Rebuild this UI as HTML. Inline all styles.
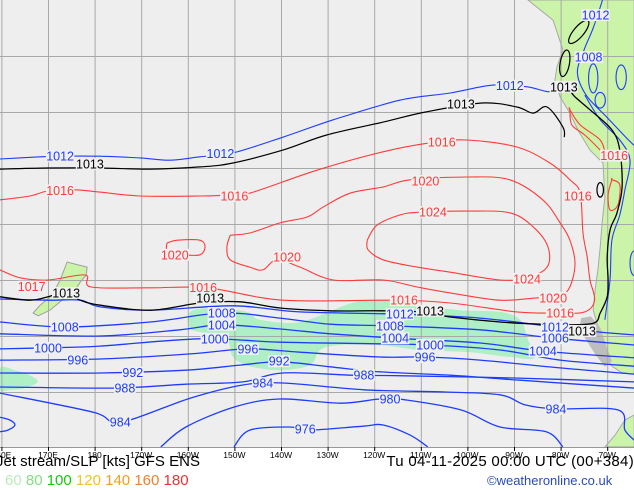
<!DOCTYPE html>
<html><head><meta charset="utf-8">
<style>
html,body{margin:0;padding:0;background:#fff;}
body{width:634px;height:490px;position:relative;overflow:hidden;font-family:"Liberation Sans",sans-serif;}
#map{position:absolute;left:0;top:0;}
.t{position:absolute;white-space:nowrap;}
</style></head>
<body>
<svg id="map" width="634" height="490" viewBox="0 0 634 490" xmlns="http://www.w3.org/2000/svg">
  <defs><clipPath id="clip"><rect x="0" y="0" width="634" height="447"/></clipPath></defs>
  <rect x="0" y="0" width="634" height="447" fill="#eeeeee"/>
  <g id="plot" clip-path="url(#clip)"></g>
  <line x1="0" y1="447.5" x2="634" y2="447.5" stroke="#999" stroke-width="1"/>
  <g id="ticks"></g>
</svg>
<div class="t" style="left:-4px;top:453px;font-size:15px;color:#000;">Jet stream/SLP [kts] GFS ENS</div>
<div class="t" style="right:0px;top:453px;font-size:15px;color:#000;letter-spacing:0.3px;">Tu 04-11-2025 00:00 UTC (00+384)</div>
<div class="t" style="left:5px;top:472px;font-size:15px;">
<span style="color:#b8ecb8">60</span>
<span style="color:#80e080">80</span>
<span style="color:#10cc10">100</span>
<span style="color:#e8c820">120</span>
<span style="color:#f0a020">140</span>
<span style="color:#f08030">160</span>
<span style="color:#f03030">180</span>
</div>
<div class="t" style="left:487px;top:473px;font-size:13px;color:#2a4cb0;">©weatheronline.co.uk</div>
<script>
// axis data
const lonTicks = [160,170,180,190,200,210,220,230,240,250,260,270,280,290];
const lonTickLabels = ["160E","170E","180","170W","160W","150W","140W","130W","120W","110W","100W","90W","80W","70W"];
const latGrid = [10,20,30,40,50,60,70];

// land & jet areas [lon(E), lat(S)]
const landSouthAmerica = [[273,0],[278.4,3.6],[280.5,8.9],[279.2,12],[278.8,14.3],[279.9,17.3],[282,20.2],[283.7,23.2],[286.3,26.8],[289.1,29.1],[289.5,35.2],[288.9,39.8],[288.5,44.1],[288,48.2],[287.4,51.8],[287,55.4],[287.8,57.7],[289,60],[290,64.3],[291.2,65.5],[293,66.5],[295.8,66.8],[295.8,0]];
const landFuegoIslands = [[284.4,56.8],[286.5,56.5],[288.5,58.5],[289.5,61],[291,64.5],[289.5,65.5],[287.5,63.4],[285.5,60.7],[284,58.9]];
const landAntarctic = [[289.5,79.8],[291.7,77.7],[293.8,75],[295.8,74.1],[295.8,79.8]];
const landNewZealand = [[178.4,47.7],[174.1,46.8],[172.6,50],[170.9,52.7],[168.3,54.5],[166.8,55.9],[167.9,56.4],[170.4,55.4],[173,53.6],[175.8,51.8],[176.9,50.4],[178.2,49.1]];
const jetMain = [[200.5,55.7],[205.8,55],[212.7,55.7],[215.5,57.1],[224.1,57.5],[235.2,54.1],[241.2,53.6],[249.8,54.5],[258.4,55.4],[267,55.7],[271.3,57.1],[273,60.7],[274.5,63.9],[269.1,63.75],[260.6,62.9],[249.8,62.5],[241.2,61.6],[232.7,61.6],[228.4,62.5],[226.2,65.2],[219.8,66.1],[213.3,65.4],[209.7,63.75],[208.4,60.7],[203.7,59.5],[200.5,58.6]];
const jetWest = [[159.7,65.7],[162.9,66.1],[166.1,67],[167.8,68.2],[165,69.3],[161.8,69.6],[159.7,69.6]];

// isobars
const iso1012N = [[159.7,28.4],[168.3,28],[172.6,27.9],[181.2,27.9],[189.7,28.2],[196.1,28.6],[202.6,28],[209.7,27.3],[220.4,24.5],[231.2,21.4],[245.5,17.9],[256.3,16.6],[265.5,15.2],[272.8,15.5],[277.7,16.4],[279.9,15.2]];
const iso1013N = [[159.7,30.2],[170,30],[181.2,30],[191.9,30.2],[202.6,29.8],[209.7,29.1],[220.4,26.8],[229.8,24.1],[241.9,21.8],[251,20],[263.1,18.4],[270.6,19.1],[274.1,20.2],[277.1,19.1],[280.5,22.7],[280.8,24.5]];
const iso1016 = [[159.7,35.7],[166.1,35],[170,34.1],[175.8,33.9],[181.2,34.3],[189.7,35],[202.6,35],[209.1,34.8],[213.3,34.5],[227.7,30.4],[241.9,27.1],[252,25.5],[259.9,25],[270.6,26.25],[277.7,29.1],[282,32.1],[284.2,34.5],[284.8,41.6],[285.7,45.9],[286.3,50],[287.3,53.6],[285.2,55.7],[279.9,55.9],[270.6,55.7],[256.3,54.1],[243.8,53.6],[220.4,53.6],[204.2,51.4],[191.9,51.4],[179.3,51.25],[178,49.1],[170,50],[164,49.6],[159.7,48.2]];
const iso1020 = [[209.1,42],[213.3,41.6],[219.8,39.8],[225.6,38.75],[229,37],[234.8,34.5],[241.9,33.4],[247.7,32.1],[259.9,31.6],[269.1,32.1],[276.2,35.7],[279.9,39.8],[282,42.9],[283.1,47.3],[281.6,51.8],[278.4,53.2],[274.9,53.2],[267,53.6],[256.3,52.3],[249.2,51.25],[241.9,50],[231.2,50],[224.1,47.7],[219.1,46.4],[216.1,48.2],[213.3,47.7],[209.1,46.4],[208.4,44.1],[209.1,42]];
const iso1024 = [[238.5,42.9],[240.6,40.2],[245.5,38.4],[249.8,37.9],[259.9,37.7],[269.1,38],[274.1,40.5],[277.3,44.1],[277.1,47.7],[272.8,49.6],[267,50],[256.3,48.6],[249.2,47.7],[241.9,46.4],[238.7,44.6],[238.5,42.9]];
const iso1020W = [[195.5,43.4],[197.7,42.9],[202.6,42.9],[203.7,44.1],[202.6,45.5],[199,45.5],[195.7,45.2],[195.5,43.4]];
const isoRedCoastA = [[282,19.6],[284.2,22.3],[288.5,25],[289.5,27.7],[288.5,26.8],[285.2,24.1],[282.4,22.3],[282,19.6]];
const isoRedCoastB = [[291,32.1],[292.7,33],[292.3,36.6],[290.6,37.5],[290.2,34.8],[291,32.1]];
const iso1013S = [[159.7,53],[166.1,53.6],[170,53],[173.6,52.1],[176.9,53.6],[181.2,54.5],[191.9,55.4],[202.6,54.1],[211.2,53.9],[219.8,55],[230.5,55.5],[241.2,55.5],[249.8,55.7],[256.3,56.6],[267,57.5],[275.6,57.9],[281,58],[287.1,57.7],[288.5,55.9],[290,53],[290.2,50],[290,45.9],[290.6,41.1],[292.1,38],[293.2,33.4],[292.7,26.8],[291,23.2],[286.3,19.6],[283.1,17.3],[282,16.1]];
const iso1012S = [[159.7,53.4],[170,53.6],[176.9,53.6],[181.2,54.8],[191.9,55.4],[209.7,54.6],[224.1,55.7],[245.5,56.1],[262.7,56.8],[278.8,58.4],[288.5,59.3],[295.8,59.8]];
const iso1008 = [[159.7,57.5],[173.6,58.4],[191.9,57.5],[207.3,55.9],[219.8,56.8],[230.5,57.9],[243.4,58.2],[262.7,58.9],[278.8,60.4],[295.8,61.6]];
const iso1004 = [[159.7,59.6],[181.2,60],[198.3,58.9],[207.3,58],[219.8,58.75],[230.5,59.6],[244.5,60.4],[262.7,61.25],[276.2,62.7],[295.8,63.9]];
const iso1000 = [[159.7,62.3],[170,62.1],[181.2,61.8],[202.6,60.5],[219.8,61.1],[241.2,61.4],[252,61.6],[267,62.5],[279.9,64.3],[295.8,65.4]];
const iso996 = [[159.7,64.3],[181.2,64.1],[200.5,63.2],[212.9,62.3],[224.1,62.9],[241.2,63.75],[250.9,63.75],[262.7,64.3],[279.9,65.7],[295.8,66.8]];
const iso992 = [[159.7,66.6],[181.2,66.6],[199.6,66.1],[211.2,65.2],[219.8,64.6],[230.5,65.5],[241.2,66.4],[256.3,67],[271.3,67.9],[295.8,69.3]];
const iso988 = [[159.7,69.1],[184,69.3],[199.6,68.6],[211.8,68.2],[220.4,66.6],[235.2,67],[246.4,67.1],[270,67.5],[295.8,68.2]];
const iso984 = [[159.7,70.2],[179.7,73.6],[185.5,75.4],[200.5,71.1],[211.8,68.75],[220.4,68.4],[237.8,69.6],[255.2,70],[267,70.5],[272.4,72.3],[279,73],[292.3,73.2],[293.8,76.8],[295.8,78.6]];
const iso980 = [[194.2,79.8],[199.6,76.25],[209.9,72.7],[219.6,71.25],[232.7,72],[241.2,71.25],[246.6,71.4],[258.6,73.2],[267,76.25],[276.9,77.1],[280.5,79.8]];
const iso976 = [[209.9,79.8],[213.3,76.8],[221.9,76.25],[226.2,76.8],[237.6,76.1],[241.9,75.9],[247.7,77.7],[251.5,79.8]];
const isoBlueLoopW = [[159.7,74.5],[161.8,75],[162.9,75.9],[161.4,76.8],[159.7,77.1]];
const isoBlueCoast = [[285.2,17],[288.5,21.4],[292.7,25],[294.9,28.6],[293.8,33.9],[292.7,38.4],[291,42.9],[290.6,50],[289.5,57.1]];
const isoBlueCoastE = [[289,0],[287,5],[285,9],[283.6,13],[285.5,17],[290,21],[294,24.5],[295.8,26]];
// small closed lows/highs on land: [lon, lat, rx, ry, rotation]
const blackLoops = [[283.9,5.7,1.1,2.6,40],[280.9,11.3,1.0,2.4,10],[288.5,33.9,0.7,1.3,0]];
const blueLoops = [[293,13.8,1.1,2.2,0],[288.5,17.9,1.1,1.4,0],[287,14,1.0,2.6,0],[295.8,47,0.9,2.2,0]];

// label positions [lon, lat, text]
const labelsBlue = [[172.6,27.9,"1012"],[207,27.4,"1012"],[269.1,15.3,"1012"],[287.5,2.7,"1012"],[286,10.2,"1008"],
 [245.5,56.1,"1012"],[278.8,58.4,"1012"],[173.6,58.4,"1008"],[207.3,55.9,"1008"],[243.4,58.2,"1008"],[278.8,60.4,"1006"],
 [207.3,58,"1004"],[244.5,60.4,"1004"],[276.2,62.7,"1004"],[170,62.1,"1000"],[205.8,60.5,"1000"],[252,61.6,"1000"],
 [176.4,64.3,"996"],[212.9,62.3,"996"],[250.9,63.75,"996"],[188.2,66.5,"992"],[219.6,64.5,"992"],
 [186.5,69.3,"988"],[237.8,67,"988"],[185.5,75.4,"984"],[216.1,68.4,"984"],[279,73,"984"],[243.4,71.25,"980"],[225.2,76.6,"976"]];
const labelsRed = [[254.5,25.4,"1016"],[210,35,"1016"],[172.6,34,"1016"],[283.7,35,"1016"],[291.5,27.8,"1016"],[203.3,51.3,"1016"],[246.4,53.6,"1016"],[279.9,55.9,"1016"],[166.5,51.2,"1017"],
 [251,32.3,"1020"],[221.3,45.9,"1020"],[278.4,53.2,"1020"],[197.2,45.5,"1020"],[252.6,37.9,"1024"],[272.8,49.8,"1024"]];
const labelsBlack = [[179,29.3,"1013"],[258.6,18.6,"1013"],[280.7,15.5,"1013"],[173.9,52.3,"1013"],[204.8,53.2,"1013"],[252,55.5,"1013"],[284.6,59.1,"1013"]];

// axis functions
const X = lon => 48 + (lon - 170) * 4.66;
const Y = latS => latS * 5.6;
const NS = "http://www.w3.org/2000/svg";
const plot = document.getElementById("plot");
const ticksG = document.getElementById("ticks");

function mk(tag, attrs, parent){
  const el = document.createElementNS(NS, tag);
  for (const k in attrs) el.setAttribute(k, attrs[k]);
  parent.appendChild(el);
  return el;
}
function polyPath(pts){
  return "M" + pts.map(d => X(d[0]).toFixed(1) + "," + Y(d[1]).toFixed(1)).join("L") + "Z";
}
function smoothPath(pts, closed){
  const p = pts.map(d => [X(d[0]), Y(d[1])]);
  if (p.length < 3) return "M" + p.map(q => q.join(",")).join("L");
  let s = "M" + p[0][0].toFixed(1) + "," + p[0][1].toFixed(1);
  const n = p.length;
  for (let i = 0; i < n - (closed ? 0 : 1); i++){
    const p0 = p[closed ? (i - 1 + n) % n : Math.max(i - 1, 0)];
    const p1 = p[i], p2 = p[(i + 1) % n];
    const p3 = p[closed ? (i + 2) % n : Math.min(i + 2, n - 1)];
    const c1 = [p1[0] + (p2[0] - p0[0]) / 6, p1[1] + (p2[1] - p0[1]) / 6];
    const c2 = [p2[0] - (p3[0] - p1[0]) / 6, p2[1] - (p3[1] - p1[1]) / 6];
    s += "C" + c1[0].toFixed(1) + "," + c1[1].toFixed(1) + " " + c2[0].toFixed(1) + "," + c2[1].toFixed(1) + " " + p2[0].toFixed(1) + "," + p2[1].toFixed(1);
  }
  return s + (closed ? "Z" : "");
}
function area(pts, fill, stroke, name, straight){
  const el = mk("path", {d: straight ? polyPath(pts) : smoothPath(pts, true), fill: fill, stroke: stroke, "stroke-width": 1}, plot);
  
  
}
function line(pts, color, name, closed, w){
  const el = mk("path", {d: smoothPath(pts, closed), fill: "none", stroke: color, "stroke-width": w || 1.3, "stroke-linejoin": "round"}, plot);
  
  
}

// jet stream areas
area(jetMain, "#aeefc6", "none", "jet-area-main");
area(jetWest, "#aeefc6", "none", "jet-area-west");
// land
area(landSouthAmerica, "#ccf4a8", "#a8a8a8", "land-south-america", true);
area(landFuegoIslands, "#bdbdbd", "none", "land-tierra-del-fuego", true);
area(landAntarctic, "#ccf4a8", "#a8a8a8", "land-antarctic-peninsula", true);
area(landNewZealand, "#ccf4a8", "#a0a0a0", "land-new-zealand", true);

// grid
lonTicks.forEach(lon => {
  const el = mk("line", {x1: X(lon) + 0.5, y1: 0, x2: X(lon) + 0.5, y2: 447, stroke: "#a8a8a8", "stroke-width": 1}, plot);
  
  
});
latGrid.forEach(lat => {
  const el = mk("line", {x1: 0, y1: Y(lat) + 0.5, x2: 634, y2: Y(lat) + 0.5, stroke: "#a8a8a8", "stroke-width": 1}, plot);
  
  
});

// isobars
const RED = "#ff3a3a", BLUE = "#1e3cff", BLACK = "#000";
line(iso1016, RED, "isobar-1016", false, 1.1);
line(iso1020, RED, "isobar-1020", false, 1.1);
line(iso1024, RED, "isobar-1024", false, 1.1);
line(iso1020W, RED, "isobar-1020-west", false, 1.1);
line(isoRedCoastA, RED, "isobar-1016-coast-a", true, 1.1);
line(isoRedCoastB, RED, "isobar-1016-coast-b", true, 1.1);
line(iso1012N, BLUE, "isobar-1012-north", false, 1.1);
line(iso1012S, BLUE, "isobar-1012-south");
line(iso1008, BLUE, "isobar-1008");
line(iso1004, BLUE, "isobar-1004");
line(iso1000, BLUE, "isobar-1000");
line(iso996, BLUE, "isobar-996");
line(iso992, BLUE, "isobar-992");
line(iso988, BLUE, "isobar-988");
line(iso984, BLUE, "isobar-984");
line(iso980, BLUE, "isobar-980");
line(iso976, BLUE, "isobar-976");
line(isoBlueLoopW, BLUE, "isobar-loop-west");
line(isoBlueCoast, BLUE, "isobar-1012-coast", false, 1.1);
line(isoBlueCoastE, BLUE, "isobar-1008-andes", false, 1.1);
line(iso1013N, BLACK, "isobar-1013-north", false, 1.2);
line(iso1013S, BLACK, "isobar-1013-south", false, 1.3);
blackLoops.forEach(d => {
  const el = mk("ellipse", {cx: X(d[0]), cy: Y(d[1]), rx: d[2] * 4.66, ry: d[3] * 5.6, transform: "rotate(" + d[4] + " " + X(d[0]) + " " + Y(d[1]) + ")", fill: "none", stroke: BLACK, "stroke-width": 1.2}, plot);
  
  
});
blueLoops.forEach(d => {
  const el = mk("ellipse", {cx: X(d[0]), cy: Y(d[1]), rx: d[2] * 4.66, ry: d[3] * 5.6, transform: "rotate(" + d[4] + " " + X(d[0]) + " " + Y(d[1]) + ")", fill: "none", stroke: BLUE, "stroke-width": 1.1}, plot);
  
  
});

// labels
function labels(arr, color, name){
  arr.forEach(d => {
    const g = mk("g", {}, plot);
    
    
    const w = d[2].length * 6.6 + 2;
    mk("rect", {x: X(d[0]) - w / 2, y: Y(d[1]) - 6, width: w, height: 12, fill: "#f0f0f0"}, g);
    const t = mk("text", {x: X(d[0]), y: Y(d[1]) + 4.5, "text-anchor": "middle", "font-size": 12.5, "font-family": "Liberation Sans, sans-serif", fill: color}, g);
    t.textContent = d[2];
  });
}
labels(labelsRed, RED, "isobar-label-high");
labels(labelsBlue, BLUE, "isobar-label-low");
labels(labelsBlack, BLACK, "isobar-label-1013");

// ticks
lonTicks.forEach((lon, i) => {
  const tk = mk("line", {x1: X(lon) + 0.5, y1: 447, x2: X(lon) + 0.5, y2: 451, stroke: "#000", "stroke-width": 1}, ticksG);
  
  
  const t = mk("text", {x: X(lon), y: 458, "text-anchor": "middle", "font-size": 8.5, "font-family": "Liberation Sans, sans-serif", fill: "#000"}, ticksG);
  
  
  t.textContent = lonTickLabels[i];
});
</script>
</body></html>
